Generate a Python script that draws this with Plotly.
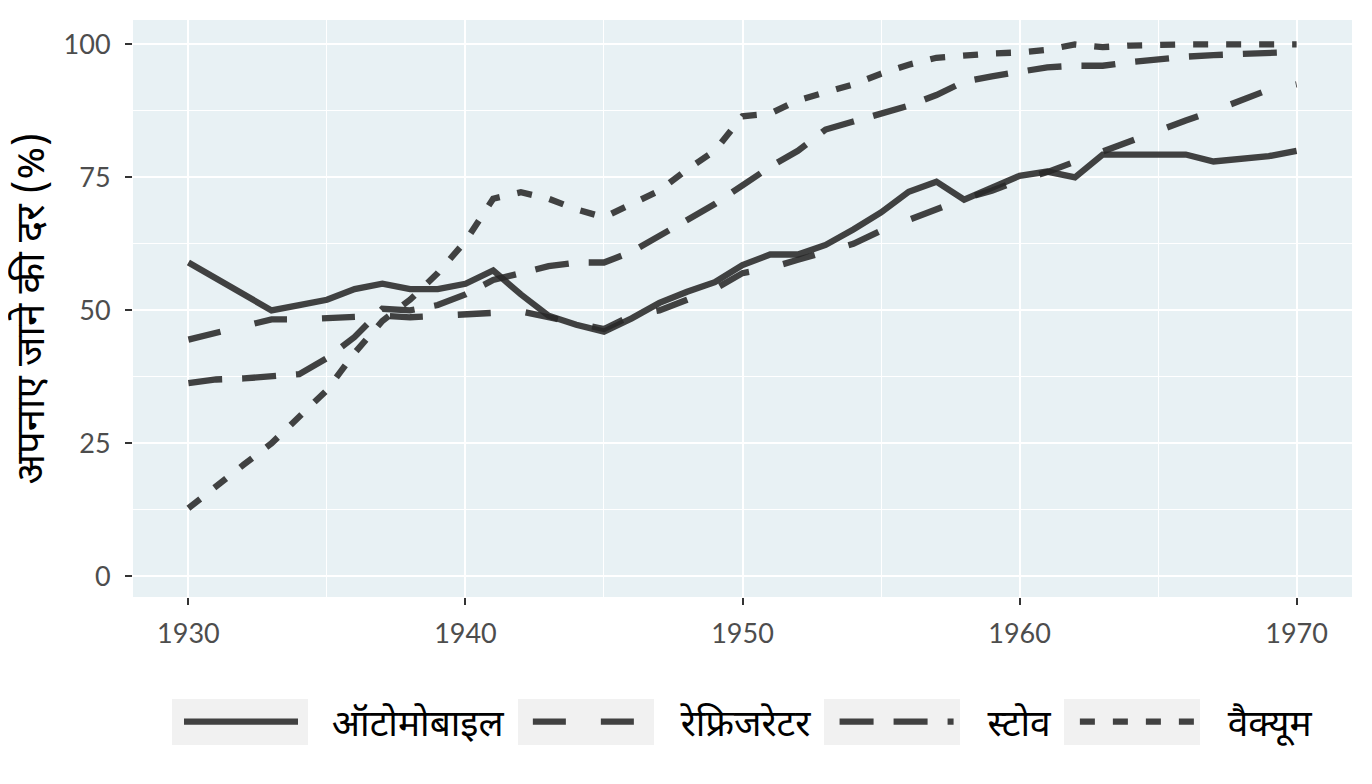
import plotly.graph_objects as go

# Years and adoption rates (%)
years = list(range(1930, 1971))

automobile = [59, None, None, 50, 51, 52, 54, 55, 54, 54,
              55, 57.5, 53, 49, 47.3, 46, 48.5, 51.4, 53.5, 55.3,
              58.5, 60.5, 60.5, 62.3, 65.2, 68.4, 72.3, 74.2, 70.8, 73,
              75.3, 76.1, 75, 79.3, 79.3, 79.3, 79.3, 78, 78.5, 79, 80]

refrigerator = [44.5, 45.8, 47, 48.3, 48.3, 48.5, 48.8, 49, 48.7, 49,
                49.3, 49.7, 49.8, 48.7, 47.5, 46.5, 49, 50, 52, 54,
                57, 58, 59.5, 61, 62.5, 65, 67, 69, 71, 72.5,
                74.5, 76, 78, 80, 82, 83.7, 85.7, 87.5, 89.5, 91.5, 92.5]

stove = [36.3, 37, 37.2, 37.5, 38, 41, 45, 50.3, 50, 51,
         53, 55.7, 57, 58.3, 59, 59, 61, 64, 67, 70,
         73.5, 77, 80, 84, 85.5, 87, 88.5, 90.5, 93, 94,
         95, 95.7, 96, 96, 96.7, 97.3, 97.7, 98, 98.2, 98.4, 98.6]

vacuum = [12.8, 17, 21, 25, 30, 35, 42, 48, 52, 57,
          63, 71, 72.2, 71, 69, 67.5, 70, 72.5, 76.5, 80,
          86.5, 87, 89.5, 91, 92.5, 94.5, 96.2, 97.5, 98, 98.3,
          98.5, 99, 100, 99.5, 99.8, 100, 100, 100, 100, 100, 100]

series_names = ["ऑटोमोबाइल", "रेफ्रिजरेटर", "स्टोव", "वैक्यूम"]
series_values = [automobile, refrigerator, stove, vacuum]
dash_styles = ["solid", "33px,35px", "34px,20px", "15px,18px"]

y_ticks = [0, 25, 50, 75, 100]
x_ticks = [1930, 1940, 1950, 1960, 1970]

LINE_COLOR = "rgba(40,40,40,0.88)"
PANEL_BG = "#e8f1f4"
KEY_BG = "#f1f1f1"
DEVA_FONT = "Noto Sans Devanagari, Noto Sans, Lohit Devanagari, sans-serif"

W, H = 1372, 784
ML, MR, MT, MB = 125, 28, 12, 195
PW, PH = W - ML - MR, H - MT - MB

NBSP = "\u00a0"

fig = go.Figure()
for name, vals, dash in zip(series_names, series_values, dash_styles):
    fig.add_trace(
        go.Scatter(
            x=years,
            y=vals,
            name=NBSP * 3 + name + NBSP * 2,
            mode="lines",
            connectgaps=True,
            line=dict(color=LINE_COLOR, width=6.3, dash=dash),
        )
    )

# grey backgrounds behind the legend keys (pixel boxes -> paper coords)
key_boxes_px = [(164, 300), (510, 646), (816, 952), (1056, 1192)]
key_top_px, key_bot_px = 691, 737
for x0, x1 in key_boxes_px:
    fig.add_shape(
        type="rect",
        xref="paper", yref="paper",
        x0=(x0 - ML) / PW, x1=(x1 - ML) / PW,
        y0=(MT + PH - key_top_px) / PH, y1=(MT + PH - key_bot_px) / PH,
        fillcolor=KEY_BG, line=dict(width=0), layer="below",
    )

axis_common = dict(
    showline=False,
    zeroline=False,
    ticks="outside",
    ticklen=7,
    tickwidth=2,
    tickcolor="#333333",
    gridcolor="white",
    gridwidth=2.2,
    tickfont=dict(family="Lato, sans-serif", size=27, color="#4d4d4d"),
)

fig.update_xaxes(
    range=[1928, 1972],
    tickvals=x_ticks,
    ticklabelstandoff=6,
    minor=dict(dtick=5, tick0=1925, showgrid=True, gridcolor="white", gridwidth=1.1, ticks=""),
    **axis_common,
)
fig.update_yaxes(
    range=[-3.9, 104.6],
    tickvals=y_ticks,
    ticklabelstandoff=9,
    minor=dict(dtick=12.5, tick0=0, showgrid=True, gridcolor="white", gridwidth=1.1, ticks=""),
    title=dict(text="अपनाए जाने की दर (%)", font=dict(family=DEVA_FONT, size=40, color="black"), standoff=6),
    **axis_common,
)

fig.update_layout(
    width=W,
    height=H,
    margin=dict(l=ML, r=MR, t=MT, b=MB, autoexpand=False),
    plot_bgcolor=PANEL_BG,
    paper_bgcolor="white",
    showlegend=True,
    legend=dict(
        orientation="h",
        x=(171 - ML) / PW,
        xanchor="left",
        y=(MT + PH - 714) / PH,
        yanchor="middle",
        itemwidth=114,
        font=dict(family=DEVA_FONT, size=37, color="black"),
        bgcolor="rgba(0,0,0,0)",
    ),
)

fig.write_html("out.html")
